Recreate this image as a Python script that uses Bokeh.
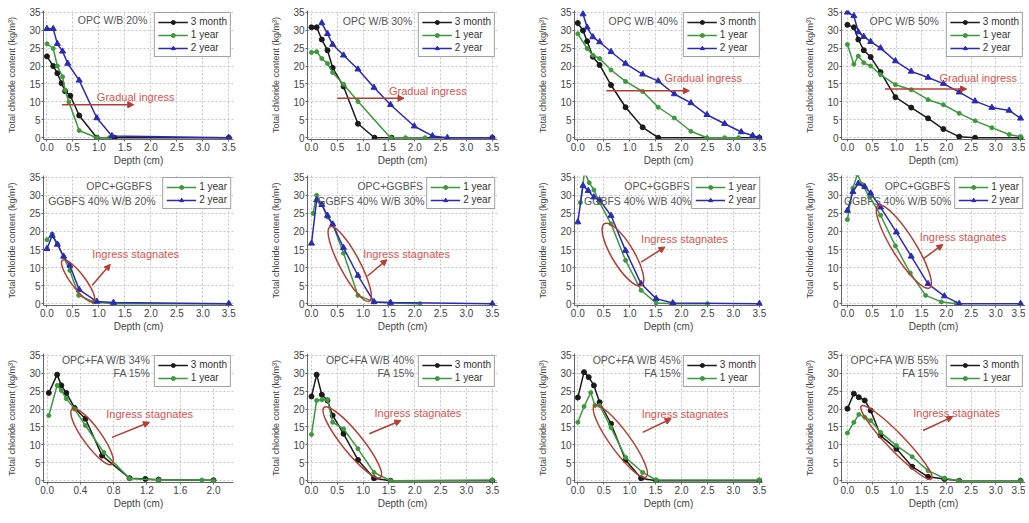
import math
from bokeh.plotting import figure
from bokeh.layouts import column, row
from bokeh.models import (Range1d, FixedTicker, PrintfTickFormatter, Label,
                          Arrow, NormalHead)
from bokeh.embed import file_html
from bokeh.resources import INLINE

# ------------------------------------------------------------------ data
series_labels = ["3 month", "1 year", "2 year"]
x_ticks_std = [0.0, 0.5, 1.0, 1.5, 2.0, 2.5, 3.0, 3.5]
x_ticks_fa34 = [0.0, 0.4, 0.8, 1.2, 1.6, 2.0]
y_ticks = [0, 5, 10, 15, 20, 25, 30, 35]

# OPC W/B 20%
opc20_m3_x = [0.0, 0.12, 0.2, 0.28, 0.35, 0.45, 0.62, 0.96, 1.3, 3.5]
opc20_m3_y = [22.7, 20.0, 18.0, 15.2, 13.0, 11.7, 6.2, 0.0, 0.0, 0.0]
opc20_y1_x = [0.0, 0.12, 0.2, 0.3, 0.35, 0.42, 0.62, 0.96, 1.2]
opc20_y1_y = [26.2, 24.9, 20.0, 17.0, 13.3, 10.0, 2.0, 0.0, 0.0]
opc20_y2_x = [0.0, 0.12, 0.2, 0.3, 0.4, 0.62, 0.96, 1.25, 3.5]
opc20_y2_y = [30.4, 30.4, 26.2, 24.1, 20.7, 16.0, 5.5, 0.5, 0.0]
# OPC W/B 30%
opc30_m3_x = [0.0, 0.1, 0.2, 0.31, 0.41, 0.62, 0.9, 1.22, 1.55, 3.5]
opc30_m3_y = [30.8, 30.8, 27.4, 24.4, 19.5, 14.3, 3.9, 0.0, 0.0, 0.0]
opc30_y1_x = [0.0, 0.1, 0.2, 0.31, 0.41, 0.62, 0.9, 1.53, 1.82, 2.2]
opc30_y1_y = [23.8, 24.0, 22.1, 20.7, 18.2, 14.9, 10.1, 0.0, 0.0, 0.0]
opc30_y2_x = [0.2, 0.31, 0.41, 0.62, 0.9, 1.21, 1.53, 1.99, 2.34, 2.63, 3.5]
opc30_y2_y = [32.0, 29.0, 26.0, 23.0, 19.1, 14.0, 9.2, 3.2, 0.5, 0.0, 0.0]
# OPC W/B 40%
opc40_m3_x = [0.0, 0.1, 0.18, 0.29, 0.42, 0.64, 0.92, 1.25, 1.55, 3.5]
opc40_m3_y = [32.0, 29.9, 26.9, 22.6, 20.3, 14.7, 8.5, 2.9, 0.0, 0.0]
opc40_y1_x = [0.0, 0.18, 0.29, 0.42, 0.64, 0.92, 1.25, 1.55, 1.86, 2.18, 2.49, 2.83, 3.1]
opc40_y1_y = [29.0, 24.9, 23.0, 22.1, 18.9, 15.7, 12.9, 8.5, 5.5, 1.8, 0.0, 0.0, 0.0]
opc40_y2_x = [0.1, 0.18, 0.29, 0.42, 0.64, 0.92, 1.25, 1.55, 1.86, 2.18, 2.49, 2.83, 3.15, 3.37, 3.5]
opc40_y2_y = [34.5, 30.8, 28.1, 26.7, 24.0, 20.7, 17.7, 15.8, 12.2, 9.7, 6.4, 3.9, 1.6, 0.6, 0.0]
# OPC W/B 50%
opc50_m3_x = [0.0, 0.13, 0.22, 0.33, 0.47, 0.67, 0.97, 1.29, 1.63, 1.94, 2.26, 2.58, 3.5]
opc50_m3_y = [31.5, 30.8, 27.4, 24.4, 22.5, 18.3, 11.3, 8.4, 5.4, 2.4, 0.3, 0.0, 0.0]
opc50_y1_x = [0.0, 0.13, 0.22, 0.33, 0.47, 0.67, 0.97, 1.29, 1.63, 1.94, 2.26, 2.58, 2.92, 3.27, 3.5]
opc50_y1_y = [26.0, 20.5, 22.8, 20.9, 20.0, 17.6, 14.8, 13.4, 10.6, 9.2, 6.8, 4.7, 2.8, 0.9, 0.3]
opc50_y2_x = [0.0, 0.13, 0.22, 0.33, 0.47, 0.67, 0.97, 1.29, 1.63, 1.94, 2.26, 2.58, 2.92, 3.27, 3.5]
opc50_y2_y = [35.0, 34.0, 29.5, 28.2, 26.8, 25.0, 21.4, 18.5, 16.8, 15.1, 12.7, 10.2, 8.4, 7.6, 5.4]
# OPC+GGBFS 40% W/B 20%
gg20_y1_x = [0.0, 0.1, 0.2, 0.32, 0.44, 0.61, 0.9, 1.28, 3.5]
gg20_y1_y = [17.7, 19.3, 16.6, 12.9, 9.2, 2.3, 0.5, 0.0, 0.0]
gg20_y2_x = [0.0, 0.1, 0.2, 0.32, 0.44, 0.62, 0.96, 1.28, 3.5]
gg20_y2_y = [15.2, 18.9, 16.4, 13.1, 10.6, 3.9, 0.6, 0.3, 0.0]
# OPC+GGBFS 40% W/B 30%
gg30_y1_x = [0.03, 0.1, 0.2, 0.31, 0.41, 0.62, 0.9, 1.21, 1.53, 2.1]
gg30_y1_y = [25.0, 30.0, 27.5, 24.0, 22.0, 14.0, 2.3, 0.5, 0.2, 0.0]
gg30_y2_x = [0.0, 0.1, 0.2, 0.31, 0.41, 0.62, 0.9, 1.21, 1.53, 3.5]
gg30_y2_y = [16.7, 28.7, 27.4, 24.4, 22.0, 15.5, 7.8, 0.5, 0.3, 0.0]
# OPC+GGBFS 40% W/B 40%
gg40_y1_x = [0.05, 0.13, 0.22, 0.31, 0.42, 0.64, 0.92, 1.22, 1.51, 1.85, 2.5]
gg40_y1_y = [28.0, 36.5, 33.5, 31.5, 28.0, 22.1, 12.0, 3.7, 0.2, 0.0, 0.0]
gg40_y2_x = [0.0, 0.1, 0.2, 0.31, 0.42, 0.64, 0.92, 1.22, 1.51, 1.83, 3.5]
gg40_y2_y = [22.6, 32.7, 31.3, 29.5, 28.7, 24.4, 14.7, 5.5, 1.4, 0.2, 0.0]
# OPC+GGBFS 40% W/B 50%
gg50_y1_x = [0.0, 0.11, 0.2, 0.3, 0.45, 0.67, 0.97, 1.27, 1.58, 1.9, 2.2]
gg50_y1_y = [23.3, 32.0, 35.8, 33.0, 29.5, 24.5, 16.0, 8.5, 2.3, 0.5, 0.0]
gg50_y2_x = [0.0, 0.11, 0.22, 0.35, 0.47, 0.67, 0.99, 1.29, 1.63, 1.96, 2.26, 3.5]
gg50_y2_y = [25.8, 31.0, 33.3, 32.4, 30.6, 26.7, 19.8, 13.1, 5.5, 2.1, 0.0, 0.0]
# OPC+FA W/B 34%
fa34_m3_x = [0.02, 0.12, 0.17, 0.23, 0.33, 0.46, 0.66, 0.99, 1.18, 1.34, 2.0]
fa34_m3_y = [24.5, 29.6, 26.6, 24.5, 20.3, 17.3, 7.0, 0.7, 0.5, 0.3, 0.1]
fa34_y1_x = [0.02, 0.12, 0.17, 0.23, 0.33, 0.46, 0.68, 0.99, 1.34, 1.86, 2.0]
fa34_y1_y = [18.2, 26.6, 25.2, 22.9, 20.0, 15.4, 7.9, 0.6, 0.2, 0.2, 0.0]
# OPC+FA W/B 40%
fa40_m3_x = [0.0, 0.1, 0.2, 0.31, 0.41, 0.62, 0.9, 1.21, 1.53, 3.5]
fa40_m3_y = [23.5, 29.6, 24.0, 22.4, 18.2, 13.1, 5.8, 0.7, 0.0, 0.0]
fa40_y1_x = [0.0, 0.1, 0.2, 0.31, 0.41, 0.62, 0.9, 1.21, 1.53, 3.5]
fa40_y1_y = [12.9, 22.4, 22.6, 22.6, 16.3, 14.5, 8.9, 2.3, 0.0, 0.2]
# OPC+FA W/B 45%
fa45_m3_x = [0.0, 0.12, 0.21, 0.31, 0.42, 0.64, 0.92, 1.22, 1.51, 3.5]
fa45_m3_y = [23.2, 30.3, 28.9, 26.6, 21.9, 15.9, 5.8, 0.7, 0.0, 0.0]
fa45_y1_x = [0.0, 0.12, 0.25, 0.33, 0.42, 0.64, 0.92, 1.25, 1.51, 3.5]
fa45_y1_y = [16.3, 20.7, 24.6, 21.0, 21.0, 14.8, 6.5, 2.3, 0.2, 0.2]
# OPC+FA W/B 55%
fa55_m3_x = [0.0, 0.13, 0.23, 0.35, 0.47, 0.67, 0.99, 1.31, 1.63, 1.96, 2.26, 3.5]
fa55_m3_y = [20.1, 24.3, 23.3, 22.4, 19.6, 12.6, 8.9, 3.9, 1.1, 0.5, 0.0, 0.0]
fa55_y1_x = [0.0, 0.13, 0.23, 0.35, 0.47, 0.67, 0.99, 1.31, 1.63, 1.96, 2.26, 3.5]
fa55_y1_y = [13.3, 16.3, 18.5, 17.7, 16.8, 13.5, 9.8, 6.7, 2.8, 0.7, 0.0, 0.0]

# ------------------------------------------------------------------ style
FONT = "Liberation Sans"
COL = {"3 month": "#1a1a1a", "1 year": "#3c9a3c", "2 year": "#2a2ab8"}
MARK = {"3 month": ("circle", 5), "1 year": ("circle", 4), "2 year": ("triangle", 6)}
RED_TXT = "#e0524f"
RED_LN = "#b83c32"
GRAYTXT = "#555555"

COLS = [dict(w=268, bl=43, br=35, xr=(-0.067, 3.59)),
        dict(w=267, bl=39, br=38, xr=(-0.077, 3.60)),
        dict(w=267, bl=39, br=40, xr=(-0.064, 3.56)),
        dict(w=223, bl=39, br=0, xr=(-0.12, 3.60))]
ROWS = [dict(h=170, bt=10, bb=31), dict(h=170, bt=5, bb=35), dict(h=173, bt=13, bb=31)]

G = "Gradual ingress"
S = "Ingress stagnates"

panels = [
    # row 1
    dict(series=[("3 month", opc20_m3_x, opc20_m3_y), ("1 year", opc20_y1_x, opc20_y1_y), ("2 year", opc20_y2_x, opc20_y2_y)],
         titles=[("OPC W/B 20%", 1.93, 32.9)], arrow=(0.29, 9.2, 1.67, 9.2), note=(0.96, 11.5, G)),
    dict(series=[("3 month", opc30_m3_x, opc30_m3_y), ("1 year", opc30_y1_x, opc30_y1_y), ("2 year", opc30_y2_x, opc30_y2_y)],
         titles=[("OPC W/B 30%", 1.95, 32.7)], arrow=(0.5, 11.0, 1.79, 11.0), note=(1.5, 13.1, G)),
    dict(series=[("3 month", opc40_m3_x, opc40_m3_y), ("1 year", opc40_y1_x, opc40_y1_y), ("2 year", opc40_y2_x, opc40_y2_y)],
         titles=[("OPC W/B 40%", 1.93, 32.7)], arrow=(0.55, 13.1, 2.15, 13.1), note=(1.67, 16.8, G)),
    dict(series=[("3 month", opc50_m3_x, opc50_m3_y), ("1 year", opc50_y1_x, opc50_y1_y), ("2 year", opc50_y2_x, opc50_y2_y)],
         titles=[("OPC W/B 50%", 1.85, 32.7)], arrow=(0.76, 13.6, 2.41, 13.6), note=(1.86, 16.8, G)),
    # row 2
    dict(series=[("1 year", gg20_y1_x, gg20_y1_y), ("2 year", gg20_y2_x, gg20_y2_y)],
         titles=[("OPC+GGBFS", 2.02, 32.7), ("GGBFS 40% W/B 20%", 2.09, 28.4)],
         ellipse=(0.6, 6.3, 52, 14, 53), arrow=(0.87, 5.1, 1.22, 10.9), note=(0.87, 13.8, S)),
    dict(series=[("1 year", gg30_y1_x, gg30_y1_y), ("2 year", gg30_y2_x, gg30_y2_y)],
         titles=[("OPC+GGBFS", 2.16, 32.7), ("GGBFS 40% W/B 30%", 2.19, 28.4)],
         ellipse=(0.74, 11.0, 84, 20, 62), arrow=(1.08, 7.6, 1.46, 12.2), note=(1.0, 13.8, S)),
    dict(series=[("1 year", gg40_y1_x, gg40_y1_y), ("2 year", gg40_y2_x, gg40_y2_y)],
         titles=[("OPC+GGBFS", 2.16, 32.7), ("GGBFS 40% W/B 40%", 2.19, 28.4)],
         ellipse=(0.87, 13.6, 72, 22, 59), arrow=(1.22, 11.5, 1.68, 15.7), note=(1.22, 18.0, S)),
    dict(series=[("1 year", gg50_y1_x, gg50_y1_y), ("2 year", gg50_y2_x, gg50_y2_y)],
         titles=[("OPC+GGBFS", 2.08, 32.7), ("GGBFS 40% W/B 50%", 2.1, 28.4)],
         ellipse=(1.14, 15.8, 97, 23, 58), arrow=(1.53, 12.4, 1.93, 16.4), note=(1.46, 18.4, S)),
    # row 3
    dict(series=[("3 month", fa34_m3_x, fa34_m3_y), ("1 year", fa34_y1_x, fa34_y1_y)],
         titles=[("OPC+FA W/B 34%", 1.24, 33.6), ("FA 15%", 1.24, 30.0)],
         ellipse=(0.54, 12.3, 68, 18, 54), arrow=(0.78, 12.1, 1.23, 16.3), note=(0.71, 18.5, S), fa34=True),
    dict(series=[("3 month", fa40_m3_x, fa40_m3_y), ("1 year", fa40_y1_x, fa40_y1_y)],
         titles=[("OPC+FA W/B 40%", 1.99, 33.6), ("FA 15%", 1.99, 30.0)],
         ellipse=(0.79, 10.7, 90, 20, 51), arrow=(1.12, 13.1, 1.73, 16.8), note=(1.22, 18.9, S)),
    dict(series=[("3 month", fa45_m3_x, fa45_m3_y), ("1 year", fa45_y1_x, fa45_y1_y)],
         titles=[("OPC+FA W/B 45%", 1.99, 33.6), ("FA 15%", 1.99, 30.0)],
         ellipse=(0.82, 11.0, 88, 20, 54), arrow=(1.25, 13.5, 1.8, 17.3), note=(1.23, 18.7, S)),
    dict(series=[("3 month", fa55_m3_x, fa55_m3_y), ("1 year", fa55_y1_x, fa55_y1_y)],
         titles=[("OPC+FA W/B 55%", 1.85, 33.6), ("FA 15%", 1.85, 30.0)],
         ellipse=(0.99, 10.7, 101, 17, 46), arrow=(1.53, 14.0, 2.13, 17.9), note=(1.33, 18.9, S)),
]


def make_panel(idx, cfg):
    c = COLS[idx % 4]
    r = ROWS[idx // 4]
    xr = (-0.044, 2.24) if cfg.get("fa34") else c["xr"]
    p = figure(width=c["w"], height=r["h"], x_range=Range1d(*xr), y_range=Range1d(-0.5, 35.5),
               output_backend="svg", toolbar_location=None,
               min_border_left=c["bl"], min_border_right=c["br"],
               min_border_top=r["bt"], min_border_bottom=r["bb"])
    p.outline_line_color = None
    p.background_fill_color = "white"
    p.border_fill_color = "white"

    p.xaxis.ticker = FixedTicker(ticks=x_ticks_fa34 if cfg.get("fa34") else x_ticks_std)
    p.xaxis.formatter = PrintfTickFormatter(format="%.1f")
    p.yaxis.ticker = FixedTicker(ticks=y_ticks)
    p.xaxis.axis_label = "Depth (cm)"
    p.yaxis.axis_label = "Total chloride content (kg/m\u00b3)"
    for ax in (p.xaxis, p.yaxis):
        ax.axis_label_text_font = FONT
        ax.axis_label_text_font_style = "normal"
        ax.axis_label_text_color = "#444444"
        ax.major_label_text_font = FONT
        ax.major_label_text_font_size = "10px"
        ax.major_label_text_color = "#444444"
        ax.axis_line_color = "#666666"
        ax.major_tick_line_color = "#666666"
        ax.minor_tick_line_color = None
        ax.major_tick_in = 0
        ax.major_tick_out = 2
        ax.major_label_standoff = 1
    p.xaxis.axis_label_standoff = 1
    p.yaxis.axis_label_standoff = 9
    p.xaxis.axis_label_text_font_size = "10px"
    p.yaxis.axis_label_text_font_size = "9px"
    p.grid.grid_line_color = "#c4c4c4"
    p.grid.grid_line_dash = "2 2"
    p.grid.grid_line_width = 1

    for lab, xs, ys in cfg["series"]:
        col = COL[lab]
        mk, sz = MARK[lab]
        p.line(xs, ys, line_color=col, line_width=1.5, legend_label=lab)
        p.scatter(xs, ys, marker=mk, size=sz, fill_color=col, line_color=col, legend_label=lab)

    for txt, tx, ty in cfg["titles"]:
        p.add_layout(Label(x=tx, y=ty, text=txt, text_font=FONT, text_font_size="10.5px",
                           text_color=GRAYTXT, text_align="right", text_baseline="middle"))

    if "ellipse" in cfg:
        ex, ey, L, W, ang = cfg["ellipse"]
        p.ellipse(x=[ex], y=[ey], width=[L], height=[W], angle=[-ang * math.pi / 180],
                  width_units="screen", height_units="screen",
                  fill_color=None, line_color=RED_LN, line_width=1.5)

    x0, y0, x1, y1 = cfg["arrow"]
    p.add_layout(Arrow(end=NormalHead(size=6, fill_color=RED_LN, line_color=RED_LN),
                       x_start=x0, y_start=y0, x_end=x1, y_end=y1,
                       line_color=RED_LN, line_width=1.5))
    nx, ny, nt = cfg["note"]
    p.add_layout(Label(x=nx, y=ny, text=nt, text_font=FONT, text_font_size="11px",
                       text_color=RED_TXT, text_align="left", text_baseline="middle"))

    lg = p.legend[0]
    lg.location = "top_right"
    lg.margin = 2
    lg.padding = 3
    lg.spacing = 2
    lg.label_standoff = 3
    lg.glyph_width = 30
    lg.glyph_height = 10
    lg.label_height = 10
    lg.label_text_font = FONT
    lg.label_text_font_size = "10px"
    lg.label_text_color = "#333333"
    lg.border_line_color = "#444444"
    lg.border_line_width = 1
    lg.background_fill_alpha = 1.0
    return p


figs = [make_panel(i, cfg) for i, cfg in enumerate(panels)]
layout = column(row(*figs[0:4]), row(*figs[4:8]), row(*figs[8:12]))

open("out.html", "w").write(file_html(layout, INLINE))
